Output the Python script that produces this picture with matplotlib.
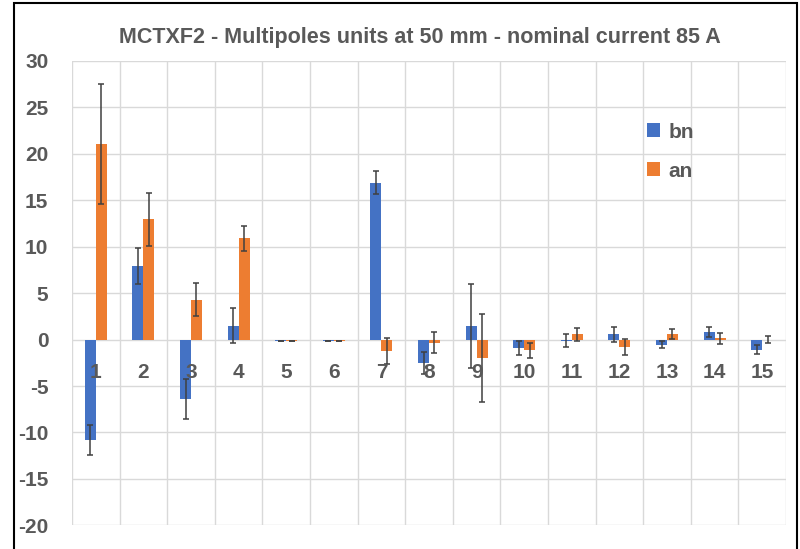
import matplotlib
matplotlib.use("Agg")
import matplotlib.pyplot as plt
import matplotlib.patches as mpatches
import numpy as np

harmonics = list(range(1, 16))
bn = [-10.85, 7.95, -6.4, 1.5, -0.1, -0.1, 16.9, -2.5, 1.45, -0.9, -0.1, 0.55, -0.55, 0.82, -1.08]
bn_err = [1.6, 1.95, 2.2, 1.85, 0.0, 0.0, 1.25, 1.2, 4.55, 0.77, 0.7, 0.78, 0.38, 0.5, 0.45]
an = [21.05, 12.95, 4.3, 10.9, -0.1, -0.1, -1.2, -0.33, -1.98, -1.15, 0.6, -0.8, 0.6, 0.15, 0.0]
an_err = [6.5, 2.85, 1.8, 1.35, 0.0, 0.0, 1.4, 1.15, 4.7, 0.8, 0.7, 0.85, 0.55, 0.6, 0.4]
yticks = [30, 25, 20, 15, 10, 5, 0, -5, -10, -15, -20]

BLUE = '#4472C4'
ORANGE = '#ED7D31'
TEXT = '#595959'
GRID = '#d9d9d9'
FONT = 'Liberation Sans'

fig = plt.figure(figsize=(8, 5.49), dpi=100)
ax = fig.add_axes([72 / 800, 1 - 525.3 / 549, 714 / 800, 464.3 / 549])

x = np.array(harmonics)
w = 0.23
ax.bar(x - w / 2, bn, w, color=BLUE, label='bn', zorder=3)
ax.bar(x + w / 2, an, w, color=ORANGE, label='an', zorder=3)
ekw = dict(fmt='none', ecolor='#404040', elinewidth=1.1, capsize=2, capthick=1.1, zorder=4)
ax.errorbar(x - w / 2, bn, yerr=bn_err, **ekw)
ax.errorbar(x + w / 2, an, yerr=an_err, **ekw)

ax.set_xlim(0.5, 15.5)
ax.set_ylim(-20, 30)
ax.set_yticks(yticks)
ax.set_yticklabels([str(t) for t in yticks], fontsize=15, fontweight='bold',
                   color=TEXT, family=FONT)
ax.tick_params(axis='y', length=0, pad=17)
ax.set_xticks(np.arange(0.5, 16, 1))
ax.set_xticklabels([])
ax.tick_params(axis='x', length=0)
ax.grid(True, color=GRID, linewidth=1, zorder=0)
for s in ax.spines.values():
    s.set_visible(False)

# category labels sit just under the zero line
for h in harmonics:
    ax.text(h, -3.5, str(h), ha='center', va='center', fontsize=15,
            fontweight='bold', color=TEXT, family=FONT, zorder=5)

fig.text(420 / 800, 1 - 37 / 549, 'MCTXF2 - Multipoles units at 50 mm - nominal current 85 A',
         ha='center', va='center', fontsize=15.5, fontweight='bold', color=TEXT, family=FONT)

leg = ax.legend(loc='upper left', bbox_to_anchor=(628 / 800, 1 - 104 / 549),
                bbox_transform=fig.transFigure, frameon=False,
                handlelength=0.65, handleheight=0.65, handletextpad=0.4, labelspacing=0.95,
                prop={'family': FONT, 'weight': 'bold', 'size': 15})
for t in leg.get_texts():
    t.set_color(TEXT)

fig.patches.append(mpatches.Rectangle((14 / 800, -0.1), 783 / 800, 1.1 - 3 / 549,
                                      transform=fig.transFigure, fill=False,
                                      edgecolor='black', linewidth=1.5))

fig.savefig('out.png', dpi=100)
